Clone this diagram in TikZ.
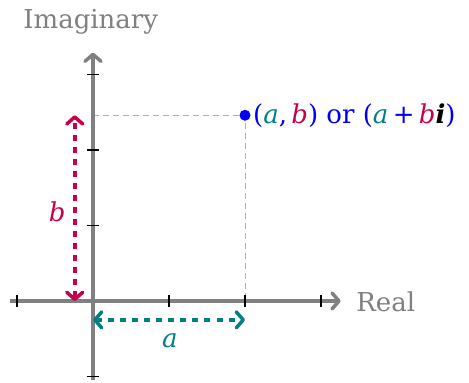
\documentclass[tikz,border=0pt]{standalone}
\usepackage{fontspec}
\setmainfont{DejaVu Serif}
\usetikzlibrary{arrows.meta}
\definecolor{axgray}{HTML}{808080}
\definecolor{dgray}{HTML}{B0B0B0}
\definecolor{myteal}{HTML}{008080}
\definecolor{myred}{HTML}{C8004B}
\definecolor{myblue}{HTML}{0000F0}
\tikzset{
  axis/.style={axgray, line width=4.5pt, -{Straight Barb[length=7pt,width=16pt,line width=3.5pt,round]}},
  tickmark/.style={black, line width=1.1pt},
  guide/.style={dgray, line width=1pt, dash pattern=on 6pt off 4pt},
  measure/.style={line width=4.5pt, dash pattern=on 6pt off 6pt,
    {Straight Barb[length=7pt,width=16pt,line width=3.5pt,round]}-{Straight Barb[length=7pt,width=16pt,line width=3.5pt,round]}},
  lbl/.style={font=\fontsize{26}{30}\selectfont, inner sep=1pt},
}
\begin{document}
\begin{tikzpicture}[x=76pt, y=75.5pt]
\useasboundingbox (-93/76,-82/75.5) rectangle (376/76,301/75.5);
\coordinate (O) at (0,0);
\coordinate (xs) at (-1.09,0);
\coordinate (xe) at (3.26,0);
\coordinate (ys) at (0,-1.05);
\coordinate (ye) at (0,3.29);
\coordinate (P) at (2,2.46);
\coordinate (Px) at (2,0);
\coordinate (Py) at (0,2.46);
\coordinate (b0) at (-0.24,0);
\coordinate (b1) at (-0.24,2.46);
\coordinate (a0) at (0,-0.25);
\coordinate (a1) at (2,-0.25);
% guides
\draw[guide] (Py) -- (P) -- (Px);
% axes
\draw[axis] (xs) -- (xe);
\draw[axis] (ys) -- (ye);
% ticks
\foreach \t in {-1,1,2,3} {
  \draw[tickmark] (\t,-0.08) -- (\t,0.08);
  \draw[tickmark] (-0.08,\t) -- (0.08,\t);
}
% measures
\draw[measure, myred] (b0) -- (b1);
\draw[measure, myteal] (a0) -- (a1);
% point
\fill[myblue] (P) circle (5.5pt);
\node[lbl, anchor=west, myblue, xshift=7pt] (pl) at (P)
  {(\textit{\textcolor{myteal}{a}},\,\textit{\textcolor{myred}{b}}) or (\textit{\textcolor{myteal}{a}}\,+\,\textit{\textcolor{myred}{b}}\textit{\textbf{\textcolor{black}{i}}})};
\node[lbl, axgray] (im) at (-0.03,3.70) {Imaginary};
\node[lbl, axgray, anchor=west] (re) at (3.45,-0.01) {Real};
\node[lbl, myred] (bl) at (-0.47,1.18) {\textit{b}};
\node[lbl, myteal] (al) at (1.01,-0.52) {\textit{a}};
\end{tikzpicture}
\end{document}
